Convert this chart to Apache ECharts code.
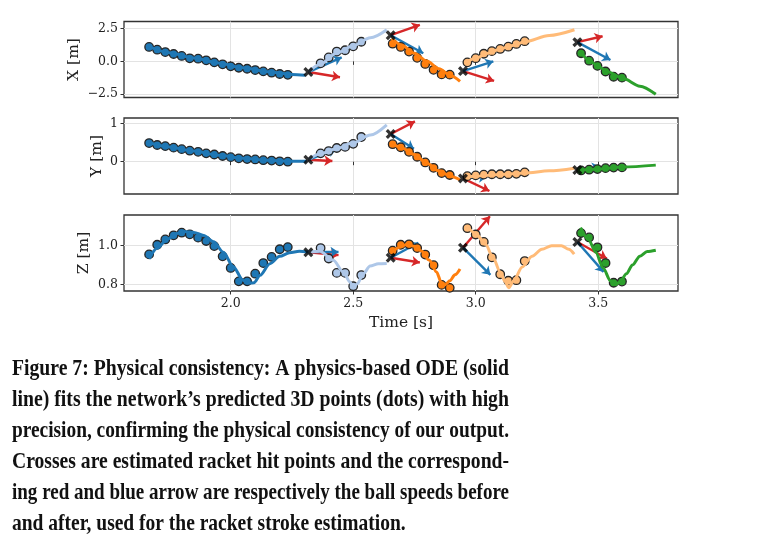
<!DOCTYPE html>
<html>
<head>
<meta charset="utf-8">
<script src="https://cdn.jsdelivr.net/npm/echarts@6/dist/echarts.min.js"></script>
<style>
	html,body{margin:0;padding:0;background:#fff;}
	#main{width:757px;height:560px;}
</style>
</head>
<body>
<div id="main"></div>
<script>
	// ********** sample times of the predicted 3D points (one list per segment)
	var dotT = [
		[1.667,1.700,1.733,1.767,1.800,1.833,1.867,1.900,1.933,1.967,2.000,2.033,2.067,2.100,2.133,2.167,2.200,2.233],
		[2.367,2.400,2.433,2.467,2.500,2.533],
		[2.661,2.694,2.728,2.761,2.794,2.828,2.861,2.894],
		[2.966,3.000,3.033,3.066,3.100,3.133,3.166,3.200],
		[3.430,3.463,3.497,3.530,3.563,3.597]
	];
	// ********** predicted points (dots)
	var dotX = [
		[1.10,0.89,0.71,0.56,0.41,0.23,0.20,0.08,-0.08,-0.23,-0.38,-0.49,-0.57,-0.67,-0.77,-0.87,-0.97,-1.03],
		[-0.15,0.30,0.75,0.85,1.15,1.50],
		[1.35,1.10,0.75,0.27,-0.20,-0.65,-1.00,-1.02],
		[-0.08,0.24,0.58,0.78,0.95,1.12,1.33,1.54],
		[0.62,0.05,-0.35,-0.78,-1.18,-1.25]
	];
	var dotY = [
		[0.49,0.44,0.41,0.37,0.33,0.29,0.26,0.22,0.19,0.15,0.12,0.09,0.07,0.06,0.04,0.03,0.01,0.00],
		[0.22,0.28,0.36,0.39,0.47,0.65],
		[0.46,0.38,0.26,0.13,-0.02,-0.16,-0.30,-0.35],
		[-0.38,-0.36,-0.34,-0.33,-0.33,-0.33,-0.32,-0.28],
		[-0.23,-0.21,-0.195,-0.17,-0.155,-0.15]
	];
	var dotZ = [
		[0.954,1.003,1.030,1.051,1.064,1.056,1.039,1.022,0.996,0.944,0.885,0.817,0.817,0.856,0.910,0.941,0.980,0.991],
		[0.986,0.933,0.860,0.860,0.792,0.849],
		[0.973,1.003,1.005,0.986,0.953,0.899,0.799,0.784],
		[1.087,1.055,1.017,0.939,0.853,0.820,0.823,0.920],
		[1.062,1.040,0.990,0.910,0.810,0.816]
	];
	// ********** ODE fit (solid lines), [time, value]
	var fitX = [
		[[1.667,1.12],[1.75,0.66],[1.85,0.26],[1.95,-0.13],[2.05,-0.50],[2.15,-0.80],[2.25,-1.00],[2.305,-1.06]],
		[[2.317,-0.84],[2.364,-0.25],[2.43,0.60],[2.50,1.20],[2.57,1.80],[2.637,2.42]],
		[[2.657,1.75],[2.70,1.22],[2.75,0.62],[2.80,0.02],[2.85,-0.56],[2.90,-1.12],[2.936,-1.53]],
		[[2.955,-0.15],[3.00,0.24],[3.05,0.62],[3.10,0.95],[3.15,1.22],[3.20,1.50],[3.30,1.98],[3.403,2.42]],
		[[3.428,0.75],[3.46,0.12],[3.50,-0.38],[3.535,-0.77],[3.60,-1.30],[3.67,-1.90],[3.735,-2.52]]
	];
	var fitY = [
		[[1.667,0.50],[1.75,0.39],[1.85,0.28],[1.95,0.17],[2.05,0.09],[2.15,0.04],[2.25,0.01],[2.31,0.01]],
		[[2.317,0.05],[2.364,0.20],[2.43,0.34],[2.50,0.50],[2.57,0.70],[2.637,0.97]],
		[[2.657,0.49],[2.70,0.36],[2.75,0.19],[2.80,-0.04],[2.85,-0.24],[2.90,-0.39],[2.936,-0.48]],
		[[2.955,-0.40],[3.00,-0.38],[3.10,-0.34],[3.20,-0.30],[3.30,-0.24],[3.403,-0.17]],
		[[3.42,-0.23],[3.50,-0.19],[3.60,-0.14],[3.735,-0.09]]
	];
	var fitZ = [
		[[1.667,0.932],[1.70,0.985],[1.74,1.03],[1.78,1.06],[1.81,1.07],[1.85,1.065],[1.89,1.05],[1.93,1.018],[1.97,0.965],[2.01,0.893],[2.05,0.823],[2.075,0.808],[2.095,0.810],[2.12,0.848],[2.16,0.907],[2.20,0.944],[2.24,0.962],[2.28,0.970],[2.317,0.966]],
		[[2.317,0.966],[2.364,0.970],[2.419,0.924],[2.46,0.864],[2.487,0.814],[2.50,0.785],[2.517,0.805],[2.541,0.856],[2.569,0.895],[2.603,0.907],[2.637,0.908]],
		[[2.655,0.96],[2.69,0.99],[2.72,1.005],[2.75,0.995],[2.78,0.97],[2.81,0.925],[2.84,0.865],[2.86,0.81],[2.875,0.80],[2.895,0.82],[2.915,0.85],[2.936,0.88]],
		[[2.963,1.10],[3.00,1.06],[3.04,1.005],[3.07,0.94],[3.10,0.865],[3.12,0.815],[3.135,0.785],[3.155,0.82],[3.19,0.89],[3.23,0.945],[3.27,0.98],[3.31,0.998],[3.35,0.998],[3.38,0.98],[3.402,0.955]],
		[[3.428,1.09],[3.46,1.03],[3.49,0.965],[3.52,0.885],[3.55,0.82],[3.57,0.80],[3.59,0.815],[3.615,0.855],[3.64,0.90],[3.67,0.945],[3.70,0.968],[3.735,0.975]]
	];
	// ********** racket hits (crosses)
	var hitT = [2.317,2.653,2.948,3.415];
	var hitX = [-0.82,2.00,-0.75,1.47];
	var hitY = [0.05,0.73,-0.44,-0.22];
	var hitZ = [0.965,0.937,0.988,1.017];
	// ********** arrow tips: red = speed before, blue = speed after
	var redX = [[2.446,-1.22],[2.772,2.80],[3.075,-1.50],[3.518,1.92]];
	var redY = [[2.415,0.02],[2.752,1.06],[3.056,-0.77],null];
	var redZ = [[2.44,0.950],[2.772,0.913],[3.058,1.148],[3.535,0.933]];
	var blueX = [[2.453,0.31],[2.786,0.62],[3.072,0.00],[3.55,0.10]];
	var blueY = [[2.43,0.33],[2.748,0.34],[3.045,-0.40],[3.507,-0.13]];
	var blueZ = [[2.44,0.966],[2.766,1.013],[3.06,0.85],[3.522,0.865]];

	var timeTicks = [2.0,2.5,3.0,3.5];
	var xTicks = [-2.5,0.0,2.5];
	var yTicks = [0,1];
	var zTicks = [0.8,1.0];
	var axisNames = ['X [m]','Y [m]','Z [m]'];

	var captionLines = [
		'Figure 7: Physical consistency: A physics-based ODE (solid',
		'line) fits the network\u2019s predicted 3D points (dots) with high',
		'precision, confirming the physical consistency of our output.',
		'Crosses are estimated racket hit points and the correspond-',
		'ing red and blue arrow are respectively the ball speeds before',
		'and after, used for the racket stroke estimation.'
	];

	var segColors = ['#1f77b4','#aec7e8','#ff7f0e','#ffbb78','#2ca02c'];
	var red = '#d62728', blue = '#1f77b4';
	var serif = '"DejaVu Serif", serif';

	var panels = [
		{dots: dotX, fit: fitX, hit: hitX, red: redX, blue: blueX, ticks: xTicks, min: -2.77, max: 3.05, gap: 42, dec: 1},
		{dots: dotY, fit: fitY, hit: hitY, red: redY, blue: blueY, ticks: yTicks, min: -0.85, max: 1.15, gap: 19, dec: 0},
		{dots: dotZ, fit: fitZ, hit: hitZ, red: redZ, blue: blueZ, ticks: zTicks, min: 0.768, max: 1.154, gap: 32, dec: 1}
	];
	var gridTops = [21.5, 118, 215];

	var grids = [], xAxes = [], yAxes = [], series = [];
	for (var p = 0; p < 3; p++) {
		grids.push({left: 124, width: 554, top: gridTops[p], height: 76, show: true,
			borderColor: '#333', borderWidth: 1.3, backgroundColor: 'transparent'});
		xAxes.push({
			type: 'value', gridIndex: p, min: 1.5645, max: 3.8257,
			name: p == 2 ? 'Time [s]' : '', nameLocation: 'middle', nameGap: 24,
			nameTextStyle: {fontFamily: serif, fontSize: 15.5, color: '#222'},
			axisLine: {show: false},
			axisTick: {show: true, length: 3.5, customValues: timeTicks, lineStyle: {color: '#333'}},
			axisLabel: {show: p == 2, customValues: timeTicks, margin: 6, fontFamily: serif, fontSize: 12.5, color: '#222',
				formatter: function (v) { return v.toFixed(1); }},
			splitLine: {show: true, lineStyle: {color: '#e3e3e3', width: 1}}
		});
		(function (pn) {
			yAxes.push({
				type: 'value', gridIndex: p, min: pn.min, max: pn.max,
				name: axisNames[p], nameLocation: 'middle', nameGap: pn.gap, nameMoveOverlap: false,
				nameTextStyle: {fontFamily: serif, fontSize: 15.5, color: '#222'},
				axisLine: {show: false},
				axisTick: {show: true, length: 3.5, customValues: pn.ticks, lineStyle: {color: '#333'}},
				axisLabel: {customValues: pn.ticks, margin: 6, fontFamily: serif, fontSize: 12.5, color: '#222',
					formatter: function (v) { return v.toFixed(pn.dec).replace('-', '\u2212'); }},
				splitLine: {show: true, lineStyle: {color: '#e3e3e3', width: 1}}
			});
		})(panels[p]);
	}

	function arrow(p, from, to, color) {
		return {
			type: 'lines', coordinateSystem: 'cartesian2d', xAxisIndex: p, yAxisIndex: p,
			symbol: ['none', 'arrow'], symbolSize: [6, 8],
			lineStyle: {color: color, width: 2.4, opacity: 1},
			data: [{coords: [from, to]}], silent: true
		};
	}

	for (var s = 0; s < 5; s++) {
		for (var p = 0; p < 3; p++) {
			var pn = panels[p];
			series.push({
				type: 'line', xAxisIndex: p, yAxisIndex: p, data: pn.fit[s],
				showSymbol: false, smooth: 0.3, smoothMonotone: 'x',
				lineStyle: {color: segColors[s], width: 3}
			});
			series.push({
				type: 'scatter', xAxisIndex: p, yAxisIndex: p, symbolSize: 8.5,
				itemStyle: {color: segColors[s], borderColor: '#262626', borderWidth: 1.3, opacity: 1},
				data: dotT[s].map(function (t, k) { return [t, pn.dots[s][k]]; })
			});
			if (s < 4) {
				var h = [hitT[s], pn.hit[s]];
				if (pn.red[s]) series.push(arrow(p, h, pn.red[s], red));
				if (pn.blue[s]) series.push(arrow(p, h, pn.blue[s], blue));
			}
		}
	}
	var crossPath = 'path://M0,2.3L2.3,0L5,2.7L7.7,0L10,2.3L7.3,5L10,7.7L7.7,10L5,7.3L2.3,10L0,7.7L2.7,5Z';
	for (var p = 0; p < 3; p++) {
		(function (pn) {
			series.push({
				type: 'scatter', xAxisIndex: p, yAxisIndex: p, symbol: crossPath, symbolSize: 10, z: 5,
				itemStyle: {color: '#000'},
				data: hitT.map(function (t, i) { return [t, pn.hit[i]]; })
			});
		})(panels[p]);
	}

	// ********** caption, justified lines
	var capFont = 'bold 23px "Liberation Serif", serif';
	var ctx = document.createElement('canvas').getContext('2d');
	ctx.font = capFont;
	var capWidth = 497, scales = [];
	for (var i = 0; i < captionLines.length; i++) {
		scales.push(capWidth / ctx.measureText(captionLines[i]).width);
	}
	var avg = 0;
	for (var i = 0; i < 5; i++) avg += scales[i] / 5;
	scales[5] = avg;
	var capBase = [376, 407, 438, 469, 500, 531];
	var graphic = captionLines.map(function (txt, i) {
		return {type: 'text', x: 12, y: capBase[i] - 7, scaleX: scales[i], z: 10,
			style: {text: txt, font: capFont, fill: '#111', verticalAlign: 'middle', align: 'left'}};
	});

	var chart = echarts.init(document.getElementById('main'));
	var option = {
		animation: false,
		grid: grids, xAxis: xAxes, yAxis: yAxes,
		series: series, graphic: graphic
	};
	option && chart.setOption(option);
</script>
</body>
</html>
